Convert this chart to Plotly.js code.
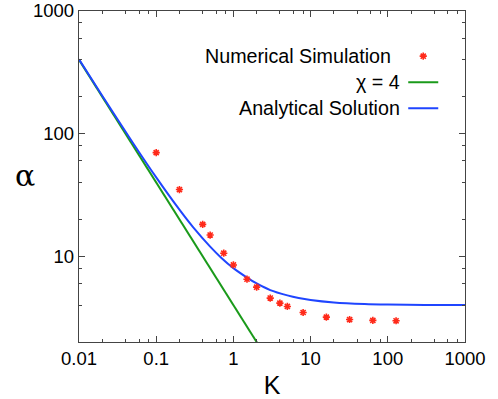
<!DOCTYPE html>
<html>
<head>
<meta charset="utf-8">
<script src="https://cdn.plot.ly/plotly-3.0.1.min.js"></script>
<style>
  html, body { margin: 0; padding: 0; background: #fff; }
  #chart { width: 498px; height: 399px; }
</style>
</head>
<body>
<div id="chart"></div>
<script>
// numerical simulation points
const simK     = [0.1, 0.2, 0.4, 0.5, 0.75, 1, 1.5, 2, 3, 4, 5, 8, 16, 32, 64, 128];
const simAlpha = [70, 35, 18.2, 14.9, 10.6, 8.5, 6.5, 5.6, 4.56, 4.15, 3.9, 3.48, 3.19, 3.05, 3.0, 2.98];

// chi = 4 line
const chiK     = [0.01, 2.5];
const chiAlpha = [400, 1.6];

// analytical solution curve
const anaK     = [0.01, 0.02, 0.05, 0.1, 0.2, 0.3, 0.5, 0.7, 1, 1.5, 2, 3, 5, 7, 10, 20, 50, 100, 300, 1000];
const anaAlpha = [404, 204, 84, 44, 24, 17.3, 12, 9.7, 8, 6.7, 6, 5.3, 4.8, 4.57, 4.4, 4.2, 4.08, 4.04, 4.01, 4.0];

const legendNames = ['Numerical Simulation', 'χ = 4', 'Analytical Solution'];

// minor ticks at 2,4,6,8 of each decade
function minorVals(lo, hi) {
    const v = [];
    for (let e = lo; e < hi; e++) {
        [2, 4, 6, 8].forEach(m => v.push(m * Math.pow(10, e)));
    }
    return v;
}

const FONT = 'Liberation Sans, Arial, Helvetica, sans-serif';

const traces = [
    {
        x: chiK, y: chiAlpha, type: 'scatter', mode: 'lines', name: ' ',
        line: { color: '#1a9a1a', width: 2 }, legendrank: 2
    },
    {
        x: anaK, y: anaAlpha, type: 'scatter', mode: 'lines', name: ' ',
        line: { color: '#1f45ff', width: 2, shape: 'spline', smoothing: 0.8 }, legendrank: 3
    },
    {
        x: simK, y: simAlpha, type: 'scatter', mode: 'markers', name: ' ',
        marker: { symbol: 'asterisk-open', size: 6, color: '#ff2a1a', line: { color: '#ff2a1a', width: 1.6 } },
        legendrank: 1
    }
];

const axisBase = {
    type: 'log',
    showline: true, mirror: 'allticks', linecolor: '#444', linewidth: 1.2,
    ticks: 'inside', ticklen: 6, tickcolor: '#444', tickwidth: 1,
    showgrid: false, zeroline: false,
    tickfont: { family: FONT, size: 18.5, color: '#000' }
};

const layout = {
    width: 498, height: 399,
    margin: { l: 79, r: 33, t: 11, b: 57 },
    paper_bgcolor: '#fff', plot_bgcolor: '#fff',
    showlegend: true,
    legend: {
        x: 0.84, y: 0.918, xanchor: 'left', yanchor: 'top',
        bgcolor: 'rgba(0,0,0,0)', borderwidth: 0,
        font: { family: FONT, size: 17.7 }, itemwidth: 30
    },
    xaxis: Object.assign({}, axisBase, {
        range: [-2, 3],
        tickvals: [0.01, 0.1, 1, 10, 100, 1000],
        ticktext: ['0.01', '0.1', '1', '10', '100', '1000'],
        minor: { tickvals: minorVals(-2, 3), ticks: 'inside', ticklen: 3, tickcolor: '#444' },
        title: { text: 'K', font: { family: FONT, size: 25, color: '#000' }, standoff: 8 }
    }),
    yaxis: Object.assign({}, axisBase, {
        range: [Math.log10(2), 3],
        tickvals: [10, 100, 1000],
        ticktext: ['10', '100', '1000'],
        minor: { tickvals: minorVals(0, 3).filter(v => v >= 2), ticks: 'inside', ticklen: 3, tickcolor: '#444' },
        title: { text: '' }
    }),
    annotations: [
        { xref: 'paper', yref: 'paper', x: -0.172, y: 0.502, text: 'α', showarrow: false,
          font: { family: 'DejaVu Serif, serif', size: 30, color: '#000' } }
    ]
};

// legend labels on the left of their symbols
const labelY = [55.7, 81.7, 107.7];
const labelRight = [393, 402, 402];
legendNames.forEach((t, i) => {
    layout.annotations.push({
        xref: 'paper', yref: 'paper',
        x: (labelRight[i] - 79) / 386, y: 1 - (labelY[i] - 11) / 331,
        xanchor: 'right', yanchor: 'middle', showarrow: false, text: t,
        font: { family: FONT, size: 19.7, color: '#000' }
    });
});

Plotly.newPlot('chart', traces, layout, { displayModeBar: false, staticPlot: true });
</script>
</body>
</html>
